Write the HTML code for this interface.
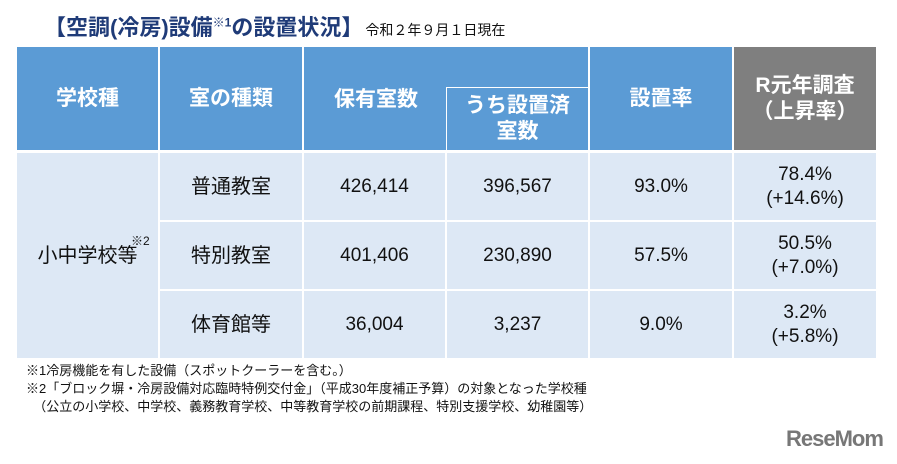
<!DOCTYPE html>
<html><head><meta charset="utf-8"><style>
body{margin:0;width:897px;height:464px;background:#fff;position:relative;overflow:hidden;font-family:"Liberation Sans","Noto Sans CJK JP",sans-serif;}
.c{position:absolute;display:flex;align-items:center;justify-content:center;text-align:center;box-sizing:border-box;}
.h{background:#5b9bd5;color:#fff;font-weight:bold;font-size:21px;line-height:26px;}
.g{background:#7f7f7f;color:#fff;font-weight:bold;font-size:21px;line-height:26px;}
.b{background:#dde8f5;color:#111;font-size:19px;line-height:24px;}
.t{position:absolute;white-space:nowrap;}
</style></head><body>
<div class="t" style="left:44px;top:10px;font-size:22px;font-weight:bold;color:#1f3b78;">【空調(冷房)設備<sup style="font-size:12px">※1</sup>の設置状況】<span style="font-size:14px;color:#111;font-weight:normal;margin-left:2px">令和２年９月１日現在</span></div>

<div class="c h" style="left:17px;top:47px;width:141px;height:103px">学校種</div>
<div class="c h" style="left:160px;top:47px;width:142px;height:103px">室の種類</div>
<div class="c h" style="left:304px;top:47px;width:284px;height:103px;align-items:flex-start;justify-content:flex-start;padding:40px 0 0 30px">保有室数</div>
<div class="c h" style="left:447px;top:88px;width:141px;height:62px;outline:1.5px solid #fff">うち設置済<br>室数</div>
<div class="c h" style="left:590px;top:47px;width:142px;height:103px">設置率</div>
<div class="c g" style="left:734px;top:47px;width:142px;height:103px">R元年調査<br>（上昇率）</div>

<div class="c b" style="left:17px;top:153px;width:141px;height:205px;font-size:20px">小中学校等<span style="position:absolute;left:114px;top:76px;font-size:12px">※2</span></div>

<div class="c b" style="left:160px;top:153px;width:142px;height:67px;font-size:20px">普通教室</div>
<div class="c b" style="left:304px;top:153px;width:141px;height:67px">426,414</div>
<div class="c b" style="left:447px;top:153px;width:141px;height:67px">396,567</div>
<div class="c b" style="left:590px;top:153px;width:142px;height:67px">93.0%</div>
<div class="c b" style="left:734px;top:153px;width:142px;height:67px">78.4%<br>(+14.6%)</div>

<div class="c b" style="left:160px;top:222px;width:142px;height:67px;font-size:20px">特別教室</div>
<div class="c b" style="left:304px;top:222px;width:141px;height:67px">401,406</div>
<div class="c b" style="left:447px;top:222px;width:141px;height:67px">230,890</div>
<div class="c b" style="left:590px;top:222px;width:142px;height:67px">57.5%</div>
<div class="c b" style="left:734px;top:222px;width:142px;height:67px">50.5%<br>(+7.0%)</div>

<div class="c b" style="left:160px;top:291px;width:142px;height:67px;font-size:20px">体育館等</div>
<div class="c b" style="left:304px;top:291px;width:141px;height:67px">36,004</div>
<div class="c b" style="left:447px;top:291px;width:141px;height:67px">3,237</div>
<div class="c b" style="left:590px;top:291px;width:142px;height:67px">9.0%</div>
<div class="c b" style="left:734px;top:291px;width:142px;height:67px">3.2%<br>(+5.8%)</div>

<div class="t" style="left:26px;top:362px;font-size:13px;line-height:18px;color:#111">※1冷房機能を有した設備（スポットクーラーを含む。）<br>※2「ブロック塀・冷房設備対応臨時特例交付金」（平成30年度補正予算）の対象となった学校種<br>&nbsp;&nbsp;（公立の小学校、中学校、義務教育学校、中等教育学校の前期課程、特別支援学校、幼稚園等）</div>
<div class="t" style="left:786px;top:426px;font-size:22px;font-weight:bold;color:#777;letter-spacing:-1px">ReseMom</div>
</body></html>
